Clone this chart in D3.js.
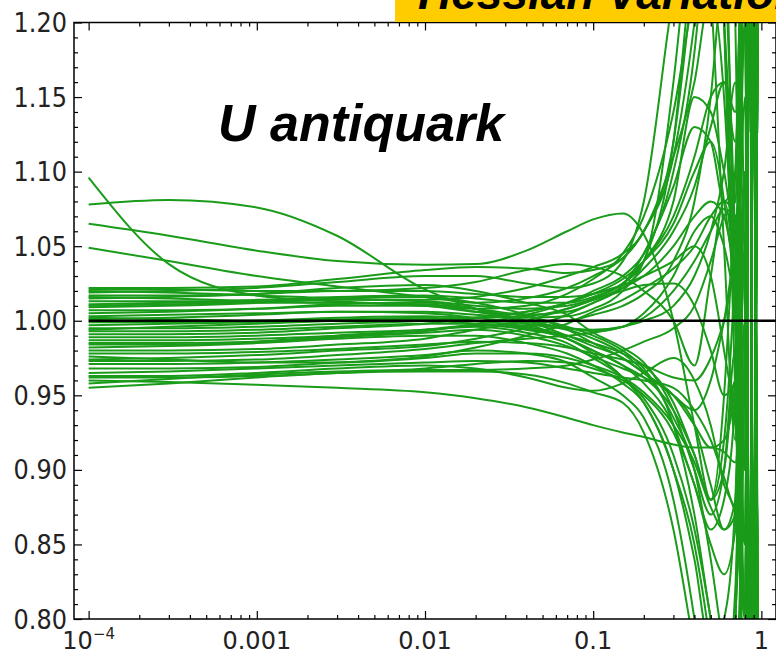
<!DOCTYPE html>
<html>
<head>
<meta charset="utf-8">
<script src="https://cdn.jsdelivr.net/npm/d3@7"></script>
<style>
  html, body { margin: 0; padding: 0; background: #fff; }
  svg { display: block; }
</style>
</head>
<body>
<svg id="chart" width="776" height="655"></svg>
<script>
// ---------------- data ----------------
const xGrid = [1e-4, 3e-4, 1e-3, 3e-3, 0.01, 0.02, 0.04, 0.07, 0.1, 0.15,
               0.2, 0.3, 0.4, 0.5, 0.6, 0.7, 0.8, 0.85, 0.9, 0.95];

const curves = [
  [1.096, 1.038, 1.017, 1.013, 1.010, 1.008, 1.010, 1.018, 1.028, 1.045, 1.070, 1.14, 1.22, 1.26, 1.20, 1.05, 0.90, 1.30, 0.70, 1.20],
  [1.078, 1.081, 1.076, 1.057, 1.021, 1.008, 0.998, 0.988, 0.980, 0.970, 0.962, 0.94, 0.91, 0.88, 0.92, 1.04, 1.22, 0.72, 1.35, 0.80],
  [1.065, 1.057, 1.047, 1.040, 1.0375, 1.038, 1.047, 1.060, 1.068, 1.072, 1.058, 1.00, 0.93, 0.88, 0.95, 1.10, 1.30, 0.75, 1.25, 0.85],
  [1.049, 1.040, 1.030, 1.023, 1.016, 1.012, 1.015, 1.022, 1.030, 1.042, 1.060, 1.11, 1.16, 1.22, 1.15, 1.00, 0.85, 1.30, 0.70, 1.25],
  [1.022, 1.022, 1.023, 1.028, 1.034, 1.036, 1.035, 1.032, 1.034, 1.042, 1.060, 1.11, 1.20, 1.30, 1.20, 1.00, 0.80, 1.25, 0.70, 1.20],
  [1.021, 1.021, 1.020, 1.020, 1.022, 1.026, 1.034, 1.038, 1.036, 1.030, 1.020, 1.00, 0.97, 1.03, 1.08, 1.02, 0.90, 1.35, 0.65, 1.30],
  [1.020, 1.019, 1.017, 1.015, 1.014, 1.016, 1.022, 1.030, 1.036, 1.045, 1.060, 1.12, 1.24, 1.35, 1.25, 1.05, 0.80, 1.30, 0.70, 1.25],
  [1.019, 1.020, 1.022, 1.026, 1.030, 1.030, 1.025, 1.022, 1.025, 1.040, 1.080, 1.22, 1.30, 1.22, 1.05, 0.92, 1.10, 0.75, 1.30, 0.70],
  [1.017, 1.017, 1.018, 1.020, 1.020, 1.018, 1.016, 1.016, 1.018, 1.025, 1.040, 1.08, 1.15, 1.14, 1.10, 1.06, 1.20, 0.70, 1.35, 0.80],
  [1.016, 1.015, 1.013, 1.012, 1.011, 1.008, 1.003, 0.996, 0.990, 0.980, 0.968, 0.93, 0.87, 0.80, 0.75, 0.82, 1.05, 0.70, 1.30, 0.80],
  [1.015, 1.016, 1.018, 1.022, 1.024, 1.020, 1.012, 1.004, 0.992, 0.982, 0.972, 0.94, 0.90, 0.87, 0.90, 0.98, 0.80, 1.30, 0.70, 1.20],
  [1.013, 1.013, 1.014, 1.016, 1.017, 1.015, 1.012, 1.012, 1.016, 1.025, 1.040, 1.07, 1.11, 1.15, 1.16, 1.12, 1.30, 0.70, 1.30, 0.75],
  [1.011, 1.012, 1.013, 1.014, 1.013, 1.010, 1.008, 1.010, 1.015, 1.025, 1.040, 1.16, 1.30, 1.40, 1.30, 1.00, 0.75, 1.30, 0.70, 1.25],
  [1.010, 1.011, 1.012, 1.012, 1.010, 1.006, 1.004, 1.006, 1.012, 1.024, 1.045, 1.09, 1.13, 1.12, 1.08, 1.10, 1.30, 0.75, 1.25, 0.70],
  [1.009, 1.010, 1.012, 1.015, 1.016, 1.012, 1.004, 0.994, 0.985, 0.975, 0.965, 0.950, 0.94, 0.96, 1.00, 1.04, 0.85, 1.30, 0.75, 1.20],
  [1.007, 1.007, 1.008, 1.010, 1.010, 1.006, 1.000, 0.995, 0.993, 0.996, 1.005, 1.03, 1.06, 1.07, 1.05, 1.02, 1.25, 0.75, 1.30, 0.70],
  [1.005, 1.006, 1.008, 1.011, 1.012, 1.008, 1.000, 0.990, 0.983, 0.975, 0.965, 0.95, 0.93, 0.89, 0.86, 0.88, 1.10, 0.65, 1.30, 0.80],
  [1.003, 1.004, 1.005, 1.006, 1.006, 1.004, 1.002, 1.003, 1.008, 1.020, 1.040, 1.12, 1.26, 1.35, 1.20, 0.95, 0.75, 1.30, 0.80, 1.20],
  [1.002, 1.001, 1.000, 1.001, 1.002, 1.000, 0.996, 0.990, 0.985, 0.978, 0.970, 0.945, 0.91, 0.88, 0.90, 0.96, 0.80, 1.30, 0.70, 1.25],
  [1.001, 1.002, 1.004, 1.006, 1.005, 1.002, 0.998, 0.995, 0.994, 0.996, 1.002, 1.02, 1.04, 1.06, 1.075, 1.05, 0.90, 1.30, 0.70, 1.25],
  [0.999, 0.999, 1.000, 1.002, 1.003, 1.002, 1.003, 1.008, 1.014, 1.022, 1.030, 1.050, 1.07, 1.08, 1.07, 1.04, 1.20, 0.70, 1.30, 0.75],
  [0.997, 0.998, 0.999, 1.000, 1.000, 0.998, 0.994, 0.988, 0.978, 0.962, 0.945, 0.90, 0.84, 0.78, 0.80, 0.88, 1.10, 0.70, 1.25, 0.80],
  [0.995, 0.995, 0.996, 0.998, 1.000, 1.002, 1.006, 1.012, 1.018, 1.024, 1.030, 1.040, 1.05, 1.03, 0.98, 0.93, 0.85, 1.30, 0.70, 1.20],
  [0.994, 0.996, 0.998, 1.000, 1.001, 1.000, 0.999, 1.000, 1.004, 1.010, 1.018, 1.04, 1.08, 1.15, 1.25, 1.30, 1.00, 0.70, 1.30, 0.75],
  [0.993, 0.993, 0.994, 0.996, 0.998, 0.998, 0.995, 0.988, 0.980, 0.970, 0.958, 0.930, 0.89, 0.86, 0.88, 0.95, 1.15, 0.70, 1.30, 0.80],
  [0.991, 0.991, 0.992, 0.995, 0.998, 1.002, 1.006, 1.012, 1.018, 1.028, 1.040, 1.065, 1.10, 1.12, 1.08, 1.00, 0.80, 1.25, 0.75, 1.30],
  [0.989, 0.989, 0.990, 0.992, 0.994, 0.996, 0.992, 0.985, 0.975, 0.962, 0.948, 0.91, 0.86, 0.80, 0.74, 0.80, 1.00, 0.75, 1.30, 0.70],
  [0.987, 0.987, 0.988, 0.990, 0.993, 0.998, 1.004, 1.012, 1.020, 1.030, 1.045, 1.10, 1.18, 1.30, 1.40, 1.20, 0.80, 1.30, 0.70, 1.20],
  [0.985, 0.985, 0.986, 0.989, 0.992, 0.994, 0.990, 0.983, 0.976, 0.968, 0.962, 0.950, 0.93, 0.915, 0.92, 0.96, 1.10, 0.75, 1.30, 0.75],
  [0.984, 0.984, 0.986, 0.990, 0.994, 0.997, 0.997, 0.994, 0.988, 0.978, 0.966, 0.935, 0.90, 0.84, 0.78, 0.75, 1.00, 1.30, 0.70, 1.20],
  [0.982, 0.983, 0.985, 0.988, 0.990, 0.990, 0.985, 0.978, 0.970, 0.958, 0.945, 0.90, 0.85, 0.78, 0.70, 0.75, 1.00, 1.30, 0.70, 1.25],
  [0.980, 0.980, 0.981, 0.984, 0.988, 0.994, 1.000, 1.008, 1.014, 1.020, 1.024, 1.025, 1.01, 0.98, 0.95, 0.96, 1.20, 0.75, 1.30, 0.80],
  [0.978, 0.978, 0.979, 0.981, 0.984, 0.986, 0.985, 0.982, 0.978, 0.974, 0.970, 0.962, 0.96, 0.975, 1.00, 1.03, 0.85, 1.30, 0.70, 1.20],
  [0.976, 0.974, 0.972, 0.972, 0.975, 0.978, 0.978, 0.975, 0.970, 0.962, 0.952, 0.930, 0.905, 0.875, 0.86, 0.87, 1.05, 0.70, 1.25, 0.75],
  [0.974, 0.975, 0.977, 0.980, 0.983, 0.988, 0.995, 1.004, 1.012, 1.022, 1.035, 1.06, 1.09, 1.13, 1.16, 1.14, 1.30, 0.75, 1.30, 0.70],
  [0.973, 0.973, 0.974, 0.977, 0.981, 0.985, 0.988, 0.990, 0.992, 0.996, 1.000, 1.01, 1.03, 1.06, 1.10, 1.16, 0.90, 1.30, 0.70, 1.25],
  [0.971, 0.971, 0.972, 0.974, 0.977, 0.980, 0.978, 0.972, 0.962, 0.950, 0.935, 0.88, 0.80, 0.72, 0.70, 0.80, 1.10, 0.70, 1.30, 0.80],
  [0.968, 0.968, 0.969, 0.972, 0.976, 0.982, 0.990, 0.998, 1.006, 1.014, 1.022, 1.035, 1.05, 1.07, 1.08, 1.07, 0.90, 1.30, 0.70, 1.25],
  [0.965, 0.966, 0.968, 0.970, 0.972, 0.973, 0.972, 0.968, 0.965, 0.962, 0.960, 0.955, 0.94, 0.92, 0.895, 0.875, 1.05, 0.70, 1.30, 0.75],
  [0.963, 0.963, 0.965, 0.968, 0.970, 0.968, 0.962, 0.955, 0.953, 0.958, 0.965, 0.975, 0.96, 0.93, 0.89, 0.87, 0.80, 1.30, 0.70, 1.20],
  [0.962, 0.962, 0.963, 0.965, 0.968, 0.971, 0.973, 0.972, 0.968, 0.960, 0.950, 0.925, 0.89, 0.85, 0.83, 0.86, 1.10, 0.70, 1.30, 0.80],
  [0.960, 0.959, 0.957, 0.955, 0.952, 0.948, 0.942, 0.935, 0.930, 0.925, 0.922, 0.917, 0.915, 0.915, 0.912, 0.905, 1.00, 0.75, 1.25, 0.80],
  [0.958, 0.961, 0.964, 0.966, 0.967, 0.967, 0.968, 0.970, 0.974, 0.980, 0.986, 0.995, 1.01, 1.04, 1.07, 1.08, 1.25, 0.70, 1.30, 0.75],
  [0.955, 0.958, 0.962, 0.965, 0.966, 0.966, 0.964, 0.958, 0.952, 0.945, 0.925, 0.86, 0.78, 0.72, 0.70, 0.80, 1.00, 1.30, 0.70, 1.20]
];

const centralX = [1e-4, 1.22];
const centralY = [1.0, 1.0];

const yMajorTicks = [0.80, 0.85, 0.90, 0.95, 1.00, 1.05, 1.10, 1.15, 1.20];
const yTickLabels = ["0.80", "0.85", "0.90", "0.95", "1.00", "1.05", "1.10", "1.15", "1.20"];
const xMajorTicks = [1e-4, 1e-3, 1e-2, 1e-1, 1];
const xTickLabels = ["10", "0.001", "0.01", "0.1", "1"];
const pdfLabel = "U antiquark";
const bannerText = "Hessian Variations";

// ---------------- layout ----------------
const svg = d3.select("#chart");
const L = 74, R = 776, T = 22.5, B = 619;

const x = d3.scaleLog().domain([Math.pow(10, -4.087), Math.pow(10, 0.087)]).range([L, R]);
const y = d3.scaleLinear().domain([0.8, 1.2]).range([B, T]);

const yMinor = d3.range(80, 121).map(v => v / 100).filter(v => !yMajorTicks.some(m => Math.abs(m - v) < 1e-9));
const xMinor = [];
[-4, -3, -2, -1].forEach(e => { for (let k = 2; k <= 9; k++) xMinor.push(k * Math.pow(10, e)); });

// clip
svg.append("defs").append("clipPath").attr("id", "plotclip")
  .append("rect").attr("x", L).attr("y", T).attr("width", R - L).attr("height", B - T);

// curves
const line = d3.line()
  .x((d, i) => x(xGrid[i]))
  .y(d => y(d))
  .curve(d3.curveMonotoneX);

const g = svg.append("g").attr("clip-path", "url(#plotclip)");
g.selectAll("path.pdf").data(curves).enter().append("path")
  .attr("class", "pdf")
  .attr("d", d => line(d))
  .attr("fill", "none")
  .attr("stroke", "#1a9c1a")
  .attr("stroke-width", 2)
  .attr("stroke-linejoin", "round");

// central line
g.append("path")
  .attr("d", d3.line().x((d, i) => x(centralX[i])).y(d => y(d))(centralY))
  .attr("stroke", "#000").attr("stroke-width", 2.4).attr("fill", "none");

// axes (ticks inward on all four sides)
function styleAxis(sel) {
  sel.select(".domain").remove();
  sel.selectAll("line").attr("stroke", "#000").attr("stroke-width", 1.2);
  sel.selectAll("text").remove();
}
svg.append("g").attr("transform", `translate(${L},0)`)
  .call(d3.axisLeft(y).tickValues(yMajorTicks).tickSize(-8)).call(styleAxis);
svg.append("g").attr("transform", `translate(${L},0)`)
  .call(d3.axisLeft(y).tickValues(yMinor).tickSize(-4)).call(styleAxis);
svg.append("g").attr("transform", `translate(${R},0)`)
  .call(d3.axisRight(y).tickValues(yMajorTicks).tickSize(-8)).call(styleAxis);
svg.append("g").attr("transform", `translate(${R},0)`)
  .call(d3.axisRight(y).tickValues(yMinor).tickSize(-4)).call(styleAxis);
svg.append("g").attr("transform", `translate(0,${B})`)
  .call(d3.axisBottom(x).tickValues(xMajorTicks).tickSize(-8)).call(styleAxis);
svg.append("g").attr("transform", `translate(0,${B})`)
  .call(d3.axisBottom(x).tickValues(xMinor).tickSize(-4)).call(styleAxis);
svg.append("g").attr("transform", `translate(0,${T})`)
  .call(d3.axisTop(x).tickValues(xMajorTicks).tickSize(-8)).call(styleAxis);
svg.append("g").attr("transform", `translate(0,${T})`)
  .call(d3.axisTop(x).tickValues(xMinor).tickSize(-4)).call(styleAxis);

// frame
svg.append("rect").attr("x", L).attr("y", T).attr("width", R - L).attr("height", B - T)
  .attr("fill", "none").attr("stroke", "#000").attr("stroke-width", 1.5);

// tick labels
const tickFont = "'DejaVu Sans', sans-serif";
svg.append("g").selectAll("text").data(yMajorTicks).enter().append("text")
  .attr("transform", d => `translate(67,${y(d) + 9.6}) scale(1,1.1)`)
  .attr("text-anchor", "end")
  .attr("font-family", tickFont).attr("font-size", 24).attr("fill", "#222")
  .text((d, i) => yTickLabels[i]);

const xl = svg.append("g").selectAll("text").data(xMajorTicks).enter().append("text")
  .attr("transform", d => `translate(${x(d)},649) scale(1,1.05)`)
  .attr("text-anchor", "middle")
  .attr("font-family", tickFont).attr("font-size", 24).attr("fill", "#222");
xl.each(function (d, i) {
  const t = d3.select(this);
  if (i === 0) {
    t.append("tspan").text(xTickLabels[0]);
    t.append("tspan").attr("font-size", 15).attr("dy", -10).text("\u22124");
  } else {
    t.text(xTickLabels[i]);
  }
});

// banner
svg.append("rect").attr("x", 395).attr("y", 0).attr("width", 381).attr("height", 22)
  .attr("fill", "#FFCC00");
svg.append("text").attr("x", 418).attr("y", 9)
  .attr("font-family", "'Liberation Sans', Arial, sans-serif")
  .attr("font-weight", "bold").attr("font-style", "italic")
  .attr("font-size", 46).attr("fill", "#000")
  .text(bannerText);

// pdf label
svg.append("text").attr("x", 218).attr("y", 141)
  .attr("font-family", "'Liberation Sans', Arial, sans-serif")
  .attr("font-weight", "bold").attr("font-style", "italic")
  .attr("font-size", 52).attr("fill", "#000")
  .text(pdfLabel);
</script>
</body>
</html>
